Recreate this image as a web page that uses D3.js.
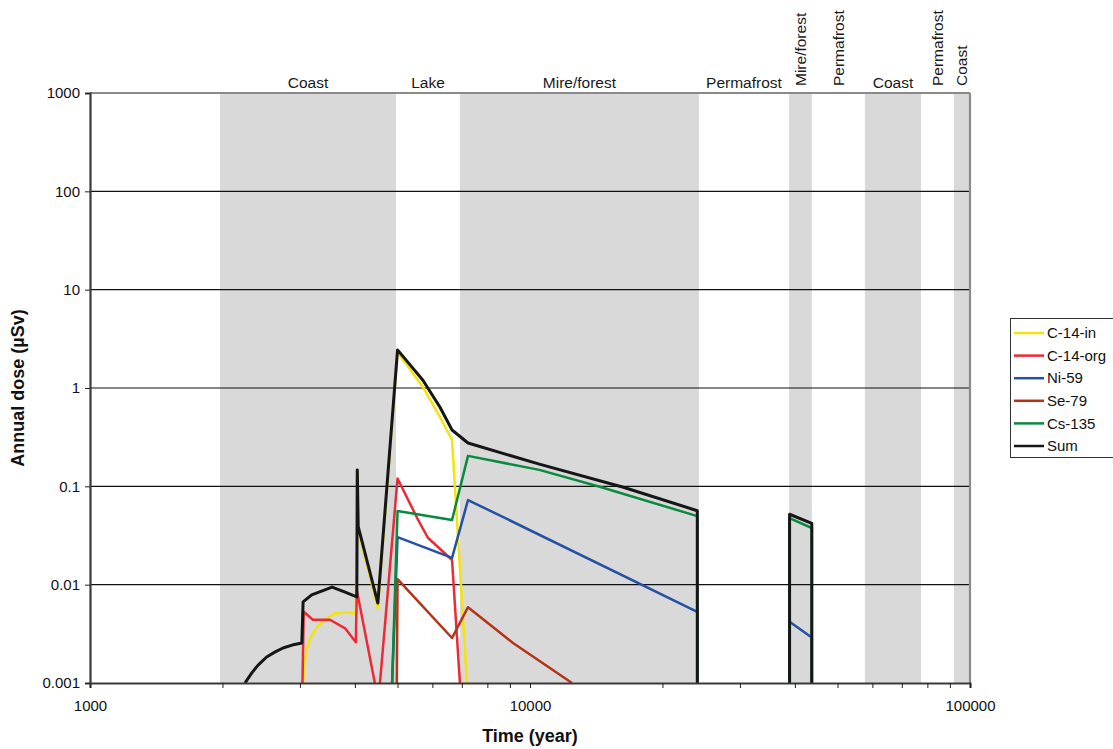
<!DOCTYPE html>
<html>
<head>
<meta charset="utf-8">
<script src="https://cdn.jsdelivr.net/npm/d3@7"></script>
<style>
body { margin: 0; background: #fff; }
text { font-family: "Liberation Sans", Arial, sans-serif; }
</style>
</head>
<body>
<svg id="chart" width="1113" height="749"></svg>
<script>
// time periods (years) shown as bands behind the curves
var periodNames = ["Coast", "Lake", "Mire/forest", "Permafrost", "Mire/forest", "Permafrost", "Coast", "Permafrost", "Coast"];
var periodStart = [1975, 4960, 6930, 24200, 38800, 43700, 57700, 77400, 91900];
var periodEnd = [4960, 6930, 24200, 38800, 43700, 57700, 77400, 91900, 100000];
var periodShaded = [true, false, true, false, true, false, true, false, true];
var periodRotated = [false, false, false, false, true, true, false, true, true];

// series: [year, annual dose uSv], null = gap
var c14in = [[3050, 0.001], [3070, 0.0015], [3100, 0.0021], [3150, 0.0027], [3210, 0.0032], [3300, 0.0038],
    [3420, 0.0044], [3600, 0.0051], [3800, 0.0052], [4020, 0.0051], [4050, 0.14], [4070, 0.036],
    [4510, 0.0058], [5000, 2.32], [5710, 1.02], [6240, 0.51], [6650, 0.296], [7190, 0.001]];
var c14org = [[3040, 0.001], [3060, 0.0053], [3210, 0.0044], [3510, 0.0044], [3800, 0.0036], [4020, 0.0026],
    [4040, 0.0088], [4440, 0.001], [4500, 0.0006], [4560, 0.001], [5000, 0.12], [5540, 0.0476], [5860, 0.030],
    [6650, 0.0178], [6930, 0.001]];
var ni59 = [[4860, 0.001], [5000, 0.0305], [6650, 0.0187], [7230, 0.0726], [24000, 0.0053], [24000, 0.001], null,
    [38900, 0.001], [38900, 0.0042], [43700, 0.0029], [43700, 0.001]];
var se79 = [[4980, 0.0008], [5000, 0.0114], [6650, 0.00287], [7230, 0.0059], [9150, 0.00255], [12460, 0.001]];
var cs135 = [[4860, 0.001], [5000, 0.056], [6650, 0.0455], [7230, 0.204], [10500, 0.147], [14400, 0.099],
    [24000, 0.0498], [24000, 0.001], null, [38900, 0.001], [38900, 0.0476], [43700, 0.0377], [43700, 0.001]];
var sum = [[2250, 0.001], [2330, 0.00126], [2410, 0.00152], [2520, 0.00184], [2630, 0.00206], [2745, 0.00227],
    [2880, 0.00243], [3030, 0.00255], [3050, 0.00667], [3190, 0.00786], [3550, 0.00946], [3800, 0.0084],
    [4040, 0.0075], [4050, 0.147], [4070, 0.039], [4510, 0.0065], [5000, 2.44], [5710, 1.2], [6240, 0.64],
    [6650, 0.374], [7230, 0.276], [10500, 0.168], [16300, 0.098], [24000, 0.0565], [24000, 0.001], null,
    [38900, 0.001], [38900, 0.052], [43700, 0.042], [43700, 0.001]];

var seriesNames = ["C-14-in", "C-14-org", "Ni-59", "Se-79", "Cs-135", "Sum"];
var seriesData = [c14in, c14org, ni59, se79, cs135, sum];
var seriesColors = ["#f5e30a", "#ec2a36", "#2451a3", "#b2351b", "#0a8a3e", "#161616"];
var seriesWidths = [2.5, 2.5, 2.5, 2.5, 2.5, 3];

var yTicks = [0.001, 0.01, 0.1, 1, 10, 100, 1000];
var xLabelTicks = [1000, 10000, 100000];

var pLeft = 90, pRight = 970, pTop = 93, pBottom = 683;

var svg = d3.select("#chart");

var x = d3.scaleLog().domain([1000, 100000]).range([pLeft, pRight]);
var y = d3.scaleLog().domain([0.001, 1000]).range([pBottom, pTop]);

// minor ticks 1000..100000
var xTicks = [];
[1000, 10000].forEach(function(dec) {
    for (var k = 1; k < 10; k++) xTicks.push(dec * k);
});
xTicks.push(100000);

svg.append("defs").append("clipPath")
    .attr("id", "plotclip")
    .append("rect")
    .attr("x", pLeft).attr("y", pTop)
    .attr("width", pRight - pLeft).attr("height", pBottom - pTop);

// bands
var periods = periodNames.map(function(n, i) {
    return {name: n, x0: periodStart[i], x1: periodEnd[i], shaded: periodShaded[i], rot: periodRotated[i]};
});

svg.append("g").selectAll("rect")
    .data(periods.filter(function(d) { return d.shaded; }))
    .enter().append("rect")
    .attr("x", function(d) { return x(d.x0); })
    .attr("y", pTop)
    .attr("width", function(d) { return x(d.x1) - x(d.x0); })
    .attr("height", pBottom - pTop)
    .attr("fill", "#d9d9d9");

var labels = svg.append("g").attr("font-size", 15.5).attr("fill", "#1a1a1a");
periods.forEach(function(d) {
    var cx = (x(d.x0) + x(d.x1)) / 2;
    if (d.rot) {
        labels.append("text")
            .attr("transform", "translate(" + cx + ",86) rotate(-90)")
            .attr("dy", "0.35em")
            .attr("text-anchor", "start")
            .text(d.name);
    } else {
        labels.append("text")
            .attr("x", cx).attr("y", 88)
            .attr("text-anchor", "middle")
            .text(d.name);
    }
});

// grid lines
svg.append("g").selectAll("line")
    .data(yTicks.slice(1, -1))
    .enter().append("line")
    .attr("x1", pLeft).attr("x2", pRight)
    .attr("y1", function(d) { return y(d); })
    .attr("y2", function(d) { return y(d); })
    .attr("stroke", "#111")
    .attr("stroke-width", 1.2);

// frame top / right
svg.append("line").attr("x1", pLeft).attr("x2", pRight).attr("y1", pTop).attr("y2", pTop)
    .attr("stroke", "#8a8a8a").attr("stroke-width", 2.2);
svg.append("line").attr("x1", pRight).attr("x2", pRight).attr("y1", pTop).attr("y2", pBottom)
    .attr("stroke", "#8a8a8a").attr("stroke-width", 2.2);

// curves
var line = d3.line()
    .defined(function(d) { return d !== null; })
    .x(function(d) { return x(d[0]); })
    .y(function(d) { return y(d[1]); });

var curves = svg.append("g").attr("clip-path", "url(#plotclip)");
seriesData.forEach(function(s, i) {
    curves.append("path")
        .attr("d", line(s))
        .attr("fill", "none")
        .attr("stroke", seriesColors[i])
        .attr("stroke-width", seriesWidths[i])
        .attr("stroke-linejoin", "round");
});

// axes
var xAxis = d3.axisBottom(x)
    .tickValues(xTicks)
    .tickSize(5)
    .tickPadding(12)
    .tickFormat(function(d) { return xLabelTicks.indexOf(d) >= 0 ? String(d) : ""; });
var gx = svg.append("g").attr("transform", "translate(0," + pBottom + ")").call(xAxis);
gx.select(".domain").attr("stroke", "#3a3a3a").attr("stroke-width", 2.2);
gx.selectAll(".tick line").attr("stroke", "#222");
gx.selectAll(".tick text").attr("font-size", 15).attr("fill", "#111")
    .attr("font-family", "Liberation Sans, Arial, sans-serif");

var yAxis = d3.axisLeft(y)
    .tickValues(yTicks)
    .tickSize(5)
    .tickPadding(5)
    .tickFormat(function(d) { return String(d); });
var gy = svg.append("g").attr("transform", "translate(" + pLeft + ",0)").call(yAxis);
gy.select(".domain").attr("stroke", "#3a3a3a").attr("stroke-width", 2.2);
gy.selectAll(".tick line").attr("stroke", "#222");
gy.selectAll(".tick text").attr("font-size", 15).attr("fill", "#111")
    .attr("font-family", "Liberation Sans, Arial, sans-serif");

// titles
svg.append("text")
    .attr("x", (pLeft + pRight) / 2).attr("y", 742)
    .attr("text-anchor", "middle")
    .attr("font-size", 18).attr("font-weight", "bold").attr("fill", "#111")
    .text("Time (year)");
svg.append("text")
    .attr("transform", "translate(24," + ((pTop + pBottom) / 2) + ") rotate(-90)")
    .attr("text-anchor", "middle")
    .attr("font-size", 18).attr("font-weight", "bold").attr("fill", "#111")
    .text("Annual dose (\u00b5Sv)");

// legend
var legend = svg.append("g").attr("transform", "translate(1010,318)");
legend.append("rect")
    .attr("x", 0.5).attr("y", 0.5)
    .attr("width", 110).attr("height", 139)
    .attr("fill", "#fff")
    .attr("stroke", "#333");
seriesNames.forEach(function(n, i) {
    var ly = 15 + i * 22.6;
    legend.append("line")
        .attr("x1", 4).attr("x2", 34)
        .attr("y1", ly).attr("y2", ly)
        .attr("stroke", seriesColors[i])
        .attr("stroke-width", 2.5);
    legend.append("text")
        .attr("x", 37).attr("y", ly)
        .attr("dy", "0.35em")
        .attr("font-size", 15).attr("fill", "#111")
        .text(n);
});
</script>
</body>
</html>
